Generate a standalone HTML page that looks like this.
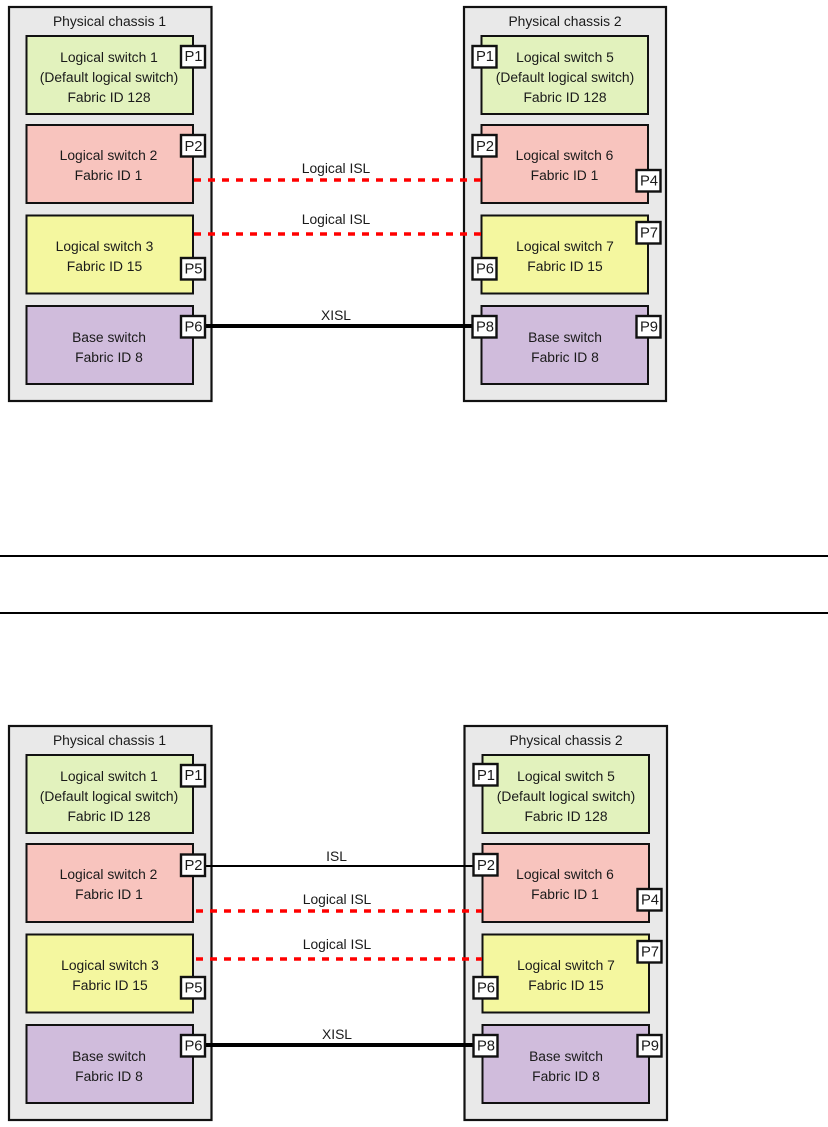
<!DOCTYPE html>
<html>
<head>
<meta charset="utf-8">
<style>
html,body{margin:0;padding:0;background:#fff;width:828px;height:1127px;overflow:hidden}
svg{display:block}
text{font-family:"Liberation Sans",Arial,sans-serif;font-size:13.85px;fill:#1a1a1a;text-anchor:middle}
.c{fill:#e9e9e9;stroke:#111;stroke-width:2.2}
.s{stroke:#111;stroke-width:2}
.g{fill:#e2f2bd}.r{fill:#f8c4be}.y{fill:#f4f79f}.v{fill:#d0bcdc}
.p{fill:#fff;stroke:#111;stroke-width:2.4}
.d{stroke:#f00;stroke-width:3.6;fill:none}
.pt{font-size:14.8px}
</style>
</head>
<body>
<svg width="828" height="1127" viewBox="0 0 828 1127" xmlns="http://www.w3.org/2000/svg">
<!-- separators -->
<line x1="0" y1="556" x2="828" y2="556" stroke="#000" stroke-width="2"/>
<line x1="0" y1="613" x2="828" y2="613" stroke="#000" stroke-width="2"/>

<!-- TOP -->
<rect class="c" x="9" y="7" width="202.5" height="394"/>
<rect class="c" x="464" y="7" width="202" height="394"/>
<text x="109.5" y="26">Physical chassis 1</text>
<text x="565" y="26">Physical chassis 2</text>

<rect class="s g" x="26.5" y="36" width="166.5" height="78"/>
<rect class="s r" x="26.5" y="125" width="166.5" height="78"/>
<rect class="s y" x="26.5" y="215.5" width="166.5" height="78"/>
<rect class="s v" x="26.5" y="306" width="166.5" height="78"/>
<rect class="s g" x="481.5" y="36" width="166.5" height="78"/>
<rect class="s r" x="481.5" y="125" width="166.5" height="78"/>
<rect class="s y" x="481.5" y="215.5" width="166.5" height="78"/>
<rect class="s v" x="481.5" y="306" width="166.5" height="78"/>

<text x="109" y="62">Logical switch 1</text>
<text x="109" y="82">(Default logical switch)</text>
<text x="109" y="102">Fabric ID 128</text>
<text x="108.5" y="160">Logical switch 2</text>
<text x="108.5" y="180">Fabric ID 1</text>
<text x="104.5" y="251">Logical switch 3</text>
<text x="104.5" y="271">Fabric ID 15</text>
<text x="109" y="342">Base switch</text>
<text x="109" y="362">Fabric ID 8</text>
<text x="565" y="62">Logical switch 5</text>
<text x="565" y="82">(Default logical switch)</text>
<text x="565" y="102">Fabric ID 128</text>
<text x="564.5" y="160">Logical switch 6</text>
<text x="564.5" y="180">Fabric ID 1</text>
<text x="565" y="251">Logical switch 7</text>
<text x="565" y="271">Fabric ID 15</text>
<text x="565" y="342">Base switch</text>
<text x="565" y="362">Fabric ID 8</text>

<line class="d" x1="194" y1="180" x2="481" y2="180" stroke-dasharray="7 7"/>
<line class="d" x1="194" y1="234" x2="481" y2="234" stroke-dasharray="7 7"/>
<line x1="205" y1="326" x2="473" y2="326" stroke="#000" stroke-width="4"/>
<text x="336" y="173">Logical ISL</text>
<text x="336" y="224">Logical ISL</text>
<text x="336" y="320">XISL</text>

<rect class="p" x="181" y="46" width="24" height="21.5"/><text class="pt" x="193.5" y="61">P1</text>
<rect class="p" x="181" y="135" width="24" height="21.5"/><text class="pt" x="193.5" y="151">P2</text>
<rect class="p" x="181" y="258" width="24" height="21.5"/><text class="pt" x="193.5" y="273.5">P5</text>
<rect class="p" x="181" y="316" width="24" height="21.5"/><text class="pt" x="193.5" y="331.5">P6</text>
<rect class="p" x="472.5" y="46" width="24" height="21.5"/><text class="pt" x="485" y="61">P1</text>
<rect class="p" x="472.5" y="135" width="24" height="21.5"/><text class="pt" x="485" y="151">P2</text>
<rect class="p" x="636.5" y="170" width="24" height="21.5"/><text class="pt" x="649" y="185.5">P4</text>
<rect class="p" x="636.5" y="222" width="24" height="21.5"/><text class="pt" x="649" y="237.5">P7</text>
<rect class="p" x="472.5" y="258" width="24" height="21.5"/><text class="pt" x="485" y="273.5">P6</text>
<rect class="p" x="472.5" y="316" width="24" height="21.5"/><text class="pt" x="485" y="331.5">P8</text>
<rect class="p" x="636.5" y="316" width="24" height="21.5"/><text class="pt" x="649" y="331.5">P9</text>

<!-- BOTTOM -->
<rect class="c" x="9" y="726" width="202.5" height="394"/>
<rect class="c" x="464.5" y="726" width="202.5" height="394"/>
<text x="109.5" y="745">Physical chassis 1</text>
<text x="566" y="745">Physical chassis 2</text>

<rect class="s g" x="26.5" y="755" width="166.5" height="78"/>
<rect class="s r" x="26.5" y="844" width="166.5" height="78"/>
<rect class="s y" x="26.5" y="934.5" width="166.5" height="78"/>
<rect class="s v" x="26.5" y="1025" width="166.5" height="78"/>
<rect class="s g" x="482.5" y="755" width="166.5" height="78"/>
<rect class="s r" x="482.5" y="844" width="166.5" height="78"/>
<rect class="s y" x="482.5" y="934.5" width="166.5" height="78"/>
<rect class="s v" x="482.5" y="1025" width="166.5" height="78"/>

<text x="109" y="781">Logical switch 1</text>
<text x="109" y="801">(Default logical switch)</text>
<text x="109" y="821">Fabric ID 128</text>
<text x="108.5" y="879">Logical switch 2</text>
<text x="109" y="899">Fabric ID 1</text>
<text x="110" y="970">Logical switch 3</text>
<text x="110" y="990">Fabric ID 15</text>
<text x="109" y="1061">Base switch</text>
<text x="109" y="1081">Fabric ID 8</text>
<text x="566" y="781">Logical switch 5</text>
<text x="566" y="801">(Default logical switch)</text>
<text x="566" y="821">Fabric ID 128</text>
<text x="565" y="879">Logical switch 6</text>
<text x="565" y="899">Fabric ID 1</text>
<text x="566" y="970">Logical switch 7</text>
<text x="566" y="990">Fabric ID 15</text>
<text x="566" y="1061">Base switch</text>
<text x="566" y="1081">Fabric ID 8</text>

<line x1="205" y1="866" x2="473" y2="866" stroke="#000" stroke-width="2"/>
<line class="d" x1="196" y1="911" x2="482" y2="911" stroke-dasharray="7 7"/>
<line class="d" x1="196" y1="959" x2="482" y2="959" stroke-dasharray="7 7"/>
<line x1="205" y1="1045" x2="474" y2="1045" stroke="#000" stroke-width="4"/>
<text x="336.5" y="861">ISL</text>
<text x="337" y="904">Logical ISL</text>
<text x="337" y="949">Logical ISL</text>
<text x="337" y="1039">XISL</text>

<rect class="p" x="181" y="765" width="24" height="21.5"/><text class="pt" x="193.5" y="780">P1</text>
<rect class="p" x="181" y="854.5" width="24" height="21.5"/><text class="pt" x="193.5" y="870">P2</text>
<rect class="p" x="181" y="977" width="24" height="21.5"/><text class="pt" x="193.5" y="992.5">P5</text>
<rect class="p" x="181" y="1035" width="24" height="21.5"/><text class="pt" x="193.5" y="1050.5">P6</text>
<rect class="p" x="473.5" y="764" width="24" height="21.5"/><text class="pt" x="486" y="780">P1</text>
<rect class="p" x="473.5" y="854" width="24" height="21.5"/><text class="pt" x="486" y="870">P2</text>
<rect class="p" x="637.5" y="889" width="24" height="21.5"/><text class="pt" x="650" y="904.5">P4</text>
<rect class="p" x="637.5" y="941" width="24" height="21.5"/><text class="pt" x="650" y="956.5">P7</text>
<rect class="p" x="473.5" y="977" width="24" height="21.5"/><text class="pt" x="486" y="992.5">P6</text>
<rect class="p" x="473.5" y="1035" width="24" height="21.5"/><text class="pt" x="486" y="1050.5">P8</text>
<rect class="p" x="637.5" y="1035" width="24" height="21.5"/><text class="pt" x="650" y="1050.5">P9</text>
</svg>
</body>
</html>
